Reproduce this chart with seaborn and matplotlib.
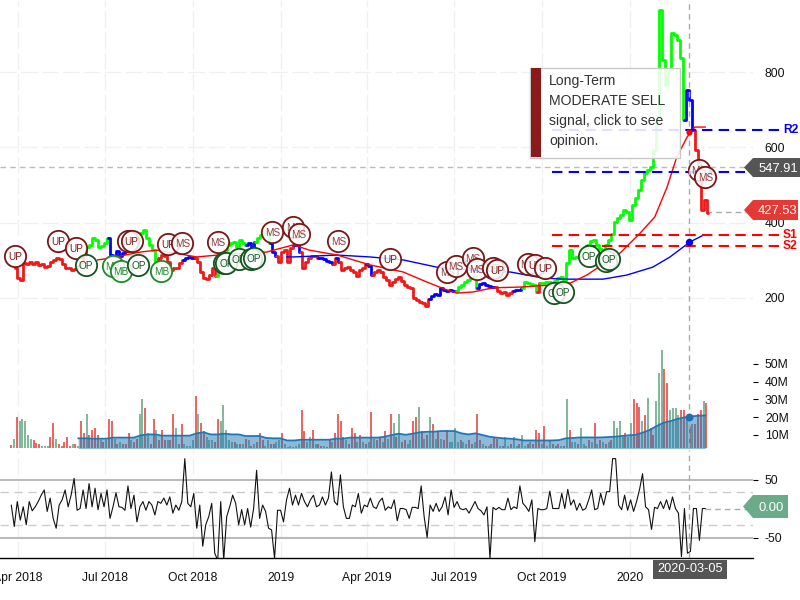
import matplotlib
matplotlib.use('Agg')
import matplotlib.pyplot as plt
import matplotlib.patches as mpatches
import numpy as np
import pandas as pd
import seaborn as sns

sns.set_theme(style='white')
plt.rcParams['font.family'] = ['Liberation Sans', 'DejaVu Sans']
plt.rcParams['axes.unicode_minus'] = False

# price, sampled along the chart, one letter per value for the signal colour
price_values = [
    280, 253, 248, 293, 290, 296, 290, 296, 288, 290,
    282, 285, 296, 301, 306, 304, 290, 280, 280, 274,
    277, 285, 296, 314, 335, 341, 359, 354, 335, 338,
    346, 359, 314, 311, 325, 311, 320, 327, 346, 354,
    359, 354, 373, 381, 359, 341, 327, 296, 306, 314,
    311, 296, 274, 280, 280, 293, 301, 306, 309, 306,
    306, 296, 269, 253, 250, 261, 280, 258, 274, 311,
    327, 341, 346, 349, 335, 354, 346, 341, 346, 327,
    349, 359, 367, 375, 375, 346, 322, 311, 296, 322,
    327, 296, 333, 341, 341, 322, 280, 296, 306, 311,
    311, 306, 306, 304, 298, 296, 290, 306, 296, 274,
    280, 282, 274, 269, 258, 274, 280, 290, 285, 261,
    269, 274, 269, 256, 248, 235, 242, 250, 256, 245,
    235, 229, 227, 200, 195, 189, 187, 179, 197, 205,
    211, 208, 227, 221, 219, 221, 219, 219, 229, 235,
    242, 248, 253, 256, 227, 237, 240, 235, 232, 229,
    229, 219, 213, 216, 208, 213, 219, 221, 221, 227,
    242, 240, 237, 235, 216, 240, 240, 242, 242, 240,
    245, 253, 256, 245, 293, 327, 306, 309, 311, 322,
    333, 341, 351, 354, 341, 330, 327, 341, 354, 370,
    402, 412, 420, 434, 428, 407, 447, 466, 487, 513,
    532, 540, 548, 593, 673, 965, 832, 766, 806, 905,
    898, 885, 837, 673, 752, 726, 646, 593, 553, 434, 460, 427,
]
price_signal = (
    'rrrrrrrrrr' 'rrrrrrrrrr' 'rrrrgggggg' 'gbbbbbbggg' 'gggggggrrr'
    'rrrrrrbbbb' 'rrrrrrrggg' 'gggggggbbb' 'gggggbbrrr' 'rrrbbrrrrr'
    'rbbbbbrbrr' 'rrrrrrrbbr' 'rrrrrrrrrr' 'rrrrrrrrbb' 'bbbbbbbggg'
    'ggggbbbbbb' 'rrrrrrbbbg' 'ggggrggggg' 'gggggggggg' 'gggggggggg'
    'gggggggggg' 'gggggggggg' 'gggbbbrrrrrr'
)

# moving averages: days since 2018-04-01, price
ma_red_days = [83, 96, 128, 145, 162, 187, 222, 260, 288, 305, 334, 368, 403, 428, 449, 459,
               476, 497, 525, 543, 562, 578, 595, 630, 651, 666, 679, 689, 700, 708, 719]
ma_red_values = [301, 306, 322, 327, 320, 309, 317, 322, 341, 327, 314, 288, 269, 242, 221, 213,
                 216, 227, 229, 232, 235, 240, 261, 320, 373, 415, 495, 574, 628, 654, 654]
ma_blue_days = [281, 288, 334, 368, 403, 438, 473, 515, 549, 570, 612, 637, 664, 682, 703, 717]
ma_blue_values = [309, 309, 314, 309, 301, 282, 274, 269, 253, 250, 250, 261, 282, 309, 349, 367]

# signal badges
signal_days = [-3, 42, 61, 71, 99, 108, 126, 115, 119, 157, 172, 150, 209, 215, 218, 231, 244, 247,
               266, 288, 294, 335, 389, 449, 458, 476, 480, 497, 501, 533, 541, 551, 561, 570,
               597, 615, 618, 712, 719]
signal_prices = [312, 351, 333, 288, 285, 272, 288, 351, 351, 343, 346, 272, 349, 293, 293, 304, 304, 306,
                 375, 389, 370, 351, 304, 269, 285, 306, 277, 280, 274, 290, 288, 280, 213, 216,
                 312, 298, 304, 540, 521]
signal_labels = ['UP', 'UP', 'UP', 'OP', 'MB', 'MB', 'OP', 'UP', 'UP', 'UP', 'MS', 'MB', 'MS', 'OP', 'OP', 'OP', 'OP', 'OP',
                 'MS', 'MS', 'MS', 'MS', 'UP', 'MS', 'MS', 'MS', 'MS', 'UP', 'UP', 'MS', 'UP', 'UP', 'OP', 'OP',
                 'OP', 'OP', 'OP', 'MS', 'MS']

level_names = ['R2', 'R1', 'S1', 'S2']
level_values = [646, 535, 367, 338]
level_colors = ['#0000ff', '#0000ff', '#ff0000', '#ff0000']
last_price = 427.53
prev_price = 547.91

# volume in millions
volume_values = [
    4.3, 8, 20, 18, 19, 18, 10, 7.5, 7, 5.5,
    5, 4, 4, 4, 9, 17, 8, 5, 4, 6,
    9, 3.5, 5, 5, 4, 18, 11, 22, 10, 13,
    14, 10, 7, 6, 7, 19, 18, 8, 5, 6,
    5, 5, 11, 7, 6, 8, 22, 30, 25, 11,
    5, 19, 13, 7, 13, 7, 7, 7, 22, 14,
    5, 16, 5, 4, 4, 7, 32, 22, 17, 12,
    9, 7, 7, 6, 19, 18, 27, 13, 7, 6,
    6, 5, 5, 5, 8, 7, 4, 5, 6, 11,
    7, 4, 7, 5, 5, 6, 7, 11, 5, 3,
    4, 3, 4, 5, 24, 12, 6, 9, 13, 5,
    5, 4, 4, 3, 8, 6, 11, 22, 18, 9,
    7, 5, 14, 11, 6, 10, 6, 5, 6, 23,
    8, 7, 9, 6, 12, 8, 22, 17, 9, 22,
    6, 7, 5, 7, 18, 20, 26, 12, 8, 10,
    20, 16, 8, 12, 8, 7, 13, 6, 6, 14,
    6, 7, 6, 5, 7, 5, 6, 22, 7, 5,
    4, 4, 5, 9, 8, 4, 4, 9, 4, 5,
    9, 4, 5, 10, 4, 5, 6, 5, 13, 11,
    5, 15, 4, 7, 5, 4, 5, 4, 4, 30,
    13, 6, 6, 5, 14, 5, 4, 7, 6, 17,
    5, 7, 6, 5, 6, 7, 18, 14, 18, 9,
    11, 9, 17, 30, 28, 26, 18, 21, 31, 14,
    10, 29, 45, 58, 47, 39, 24, 25, 25, 21,
    24, 24, 20, 15, 16, 16, 22, 24, 29, 28,
]
volume_signal = (
    'rgrgggggrr' 'rgggrrgrrr' 'rrgrgrrgrr' 'rrgrgrrgrg' 'rrrgrrggrg'
    'rrgrrrgrrg' 'rrggggrgrr' 'gggrrggggg' 'rgrgrgrgrr' 'rggrrggrgg'
    'ggggrrggrg' 'rrgrrgrrrr' 'grrrgrgrgr' 'grrgrgrgrg' 'rrggrrgrgr'
    'grgrgrrggg' 'grggrrgrrg' 'rgrrrgrggr' 'ggrggrgrrr' 'grggrrrgrg'
    'rggrgggrgr' 'grgrgrgggg' 'rggrrrgrgr' 'rgggrrgggg' 'rrgrgrrrgr'
)
volume_ma = [
    8.1, 8.1, 7.9, 7.9, 7.9, 8.5, 8.5, 8.5, 8.5, 9.8, 10.3, 10.3, 9.6, 9.6, 9.6, 9.6,
    9.6, 10.9, 11.5, 10.3, 10.3, 10.7, 10.3, 10.3, 9.4, 9.4, 9.4, 8.3, 8.1, 8.1, 6.9, 6.9,
    7.3, 7.3, 7.3, 7.3, 7.3, 7.9, 7.9, 8.5, 8.5, 8.5, 8.5, 8.5, 9.0, 10.0, 10.7,
    10.1, 10.7, 11.5, 11.8, 11.8, 12.2, 12.2, 12.2, 10.9, 10.3, 10.9, 10.0, 9.0, 8.5, 8.1, 7.9,
    7.5, 6.9, 6.9, 6.9, 6.9, 6.9, 7.1, 8.1, 8.3, 8.6, 8.6, 8.6, 8.6, 8.8, 9.0, 9.4,
    9.8, 10.1, 11.3, 12.8, 15.0, 16.9, 17.8, 19.0, 19.9, 20.5, 20.8, 21.0,
]

# oscillator
osc_values = [
    6, -31, 12, -20, 3, -28, 12, -4, 3, 12, 23, 32, -5, 18, -17, -34, 6, 15, 32, 3,
    23, 52, -3, 0, 32, 0, 43, 3, 35, -2, 26, 3, 32, -17, 3, 27, 3, 2, -3, 39,
    0, 23, -23, 3, 12, -3, 12, 6, -11, 12, 9, 18, 6, 20, -8, 6, -3, 12, 86, 9,
    3, 26, -34, 6, -65, -28, -14, 9, -77, -89, 12, -89, -14, 3, 23, 9, -28, -2, -28,
    0, -32, 0, 66, -17, 6, -5, -34, -37, -86, -3, -3, -23, 15, 35, 6, 23, 6, 26, 12,
    3, 15, 23, 3, 6, 20, 6, 18, 63, 12, 6, 58, 3, -17, -17, 6, 3, 26, -8, 6, 3,
    18, 3, 0, 12, 18, -3, 3, 0, 15, -21, 0, 0, -2, -17, 2, 2, 0, 39, -14, -50,
    6, -5, 9, -5, 3, 20, -11, 32, 2, 12, 0, -2, 0, -8, 2, 12, 0, -4, -11, 3,
    -86, 2, -2, 2, -2, -2, 18, -2, 3, 0, 39, 9, 3, -5, 15, -57, 0, -2, -2, 0,
    30, 0, 0, 0, 26, 0, 33, 6, 15, -3, 9, -3, 0, 15, 32, -2, 0, 26, 6, 29, 29, 86,
    86, 6, -2, 23, -3, 15, -5, 12, 33, 60, 3, -2, -36, 2, 0, 12, 0, 15, -2, 20,
    0, -8, -83, 0, -77, -74, 0, 0, -55, 0, 0,
]
osc_last = 0.00

price_ticks = [200, 400, 600, 800]
volume_ticks = [10, 20, 30, 40, 50]
volume_tick_labels = ['10M', '20M', '30M', '40M', '50M']
osc_ticks = [50, -50]
date_ticks = ['2018-04-01', '2018-07-01', '2018-10-01', '2019-01-01', '2019-04-01', '2019-07-01', '2019-10-01', '2020-01-01']
date_tick_labels = ['Apr 2018', 'Jul 2018', 'Oct 2018', '2019', 'Apr 2019', 'Jul 2019', 'Oct 2019', '2020']
cursor_label = '2020-03-05'
cursor_date = pd.Timestamp('2020-03-03')

origin = pd.Timestamp('2018-04-01')


def from_days(days):
    return origin + pd.to_timedelta(days, unit='D')


def line(ax, x, y, **kwargs):
    sns.lineplot(x=x, y=y, ax=ax, estimator=None, sort=False, legend=False, **kwargs)


def style_axes(ax):
    sns.despine(ax=ax, left=True, bottom=True, right=True, top=True)
    ax.set_xlim(from_days(-18.8), from_days(768.8))
    ax.set_xticks(pd.to_datetime(date_ticks))
    ax.set_xticklabels([])
    ax.grid(axis='x', color='#f0f0f0', lw=1, ls=(0, (12, 3)))
    ax.set_axisbelow(True)
    ax.patch.set_alpha(0)
    ax.tick_params(axis='x', bottom=False, labelbottom=False)
    ax.tick_params(axis='y', left=False, labelleft=False, right=True, labelright=True,
                   length=3.6, width=0.8, color='black', pad=5, labelsize=8.7, labelcolor='#111111')
    ax.axvline(cursor_date, color='#aaaaaa', lw=1, ls=(0, (4, 3)), zorder=50)
    ax.set_xlabel('')
    ax.set_ylabel('')


fig = plt.figure(figsize=(8, 6), dpi=100)
ax_price = fig.add_axes([0, 260 / 600, 753 / 800, 340 / 600])
ax_vol = fig.add_axes([0, 152 / 600, 753 / 800, 108 / 600])
ax_osc = fig.add_axes([0, 42 / 600, 753 / 800, 108 / 600])

# ---- price panel
price_dates = pd.date_range(from_days(-3), from_days(722), periods=len(price_values))
signal_colors = {'r': '#f01818', 'g': '#00ff00', 'b': '#0000ff'}
start = 0
for i in range(1, len(price_values) + 1):
    if i == len(price_values) or price_signal[i] != price_signal[start]:
        stop = min(i + 1, len(price_values))
        line(ax_price, price_dates[start:stop], price_values[start:stop],
             color=signal_colors[price_signal[start]], lw=2, zorder=4, drawstyle='steps-mid')
        start = i

line(ax_price, from_days(ma_blue_days), ma_blue_values, color='#0000ff', lw=1, zorder=5)
line(ax_price, from_days(ma_red_days), ma_red_values, color='#ff0000', lw=1, zorder=5)

ax_price.set_ylim(88.4, 991.5)
style_axes(ax_price)
ax_price.set_yticks(price_ticks)
ax_price.grid(axis='y', color='#f0f0f0', lw=1, ls=(0, (12, 3)))
ax_price.tick_params(axis='y', right=False, pad=4.5)

for name, value, color in zip(level_names, level_values, level_colors):
    stop = 745 if name == 'R1' else 780
    ax_price.plot([from_days(559), from_days((stop - 18) * 1.046)], [value, value], color=color,
                  lw=1.5, ls=(0, (5, 3)), clip_on=False, zorder=6)
ax_price.plot([from_days(-18.8), from_days(761)], [prev_price, prev_price], color='#bbbbbb',
              lw=1, ls=(0, (4, 3)), clip_on=False, zorder=3)
ax_price.plot([from_days(720), from_days(761)], [last_price, last_price], color='#aaaaaa',
              lw=1, ls=(0, (4, 3)), clip_on=False, zorder=3)

badge_styles = {
    'UP': ('#7b1616', '#7b1616'),
    'MS': ('#7b1616', '#8f3a3a'),
    'OP': ('#14551f', '#14551f'),
    'MB': ('#1d8a2a', '#1d8a2a'),
}
for i, (day, price, label) in enumerate(zip(signal_days, signal_prices, signal_labels)):
    edge, ink = badge_styles[label]
    sns.scatterplot(x=[from_days(day)], y=[price], ax=ax_price, s=235, color=(1, 1, 1, 0.85),
                    edgecolor=edge, linewidth=1.3, zorder=10 + i, legend=False)
    ax_price.text(from_days(day), price, label, ha='center', va='center_baseline', fontsize=7.2,
                  color=ink, zorder=10.5 + i)

sns.scatterplot(x=[cursor_date], y=[349], ax=ax_price, s=28, color='#0000ff', linewidth=0, zorder=60, legend=False)
sns.scatterplot(x=[cursor_date], y=[640], ax=ax_price, s=20, color='#ff0000', linewidth=0, zorder=60, legend=False)

# ---- volume panel
volume_dates = pd.date_range(from_days(-7), from_days(720), periods=len(volume_values))
volume_palette = {'r': '#e53935', 'g': '#5fa37e'}
ax_vol.vlines(volume_dates, 0, volume_values, lw=1.1,
              colors=[volume_palette[s] for s in volume_signal[:len(volume_values)]], zorder=2)
ma_dates = pd.date_range(from_days(63), from_days(719), periods=len(volume_ma))
ax_vol.fill_between(ma_dates, volume_ma, 0, color='#1f77b4', alpha=0.5, lw=0, zorder=3)
line(ax_vol, ma_dates, volume_ma, color='#1f77b4', lw=1.3, zorder=4)
sns.scatterplot(x=[cursor_date], y=[19.9], ax=ax_vol, s=32, color='#1f6fb0', linewidth=0, zorder=60, legend=False)
ax_vol.set_ylim(2.65, 63.5)
style_axes(ax_vol)
ax_vol.set_yticks(volume_ticks)
ax_vol.set_yticklabels(volume_tick_labels)

# ---- oscillator panel
osc_dates = pd.date_range(from_days(-7), from_days(719), periods=len(osc_values))
for level in (50, -50):
    ax_osc.axhline(level, color='#bbbbbb', lw=1.5, zorder=1)
for level in (29, -29):
    ax_osc.axhline(level, color='#cccccc', lw=1, ls=(0, (6, 4)), zorder=1)
line(ax_osc, osc_dates, osc_values, color='#111111', lw=0.8, zorder=3)
ax_osc.plot([from_days(719), from_days(761)], [osc_last, osc_last], color='#aaaaaa', lw=1,
            ls=(0, (4, 3)), clip_on=False, zorder=2)
ax_osc.set_ylim(-85.3, 100.9)
style_axes(ax_osc)
ax_osc.set_yticks(osc_ticks)
ax_osc.spines['bottom'].set_visible(True)
ax_osc.spines['bottom'].set_color('black')
ax_osc.spines['bottom'].set_linewidth(1)
ax_osc.set_xticks(pd.to_datetime(date_ticks))
ax_osc.set_xticklabels(date_tick_labels)
ax_osc.tick_params(axis='x', labelbottom=True, labelsize=8.7, pad=4, labelcolor='#111111')

# ---- overlay for tooltip and value tags, in pixels
overlay = fig.add_axes([0, 0, 1, 1], zorder=20)
overlay.set_xlim(0, 800)
overlay.set_ylim(600, 0)
overlay.axis('off')
overlay.add_patch(mpatches.Rectangle((530, 67.5), 150, 90, facecolor=(1, 1, 1, 0.88), edgecolor='#c8c8c8', lw=1))
overlay.add_patch(mpatches.Rectangle((530.5, 68), 10.5, 89, facecolor='#8b1a1a', edgecolor='none'))
for k, text in enumerate(['Long-Term', 'MODERATE SELL', 'signal, click to see', 'opinion.']):
    overlay.text(549, 81 + 20 * k, text, fontsize=10.1, color='#333333', va='center')


def value_tag(top, bottom, right, tip, text, color):
    mid = (top + bottom) / 2
    overlay.add_patch(mpatches.Polygon([(tip, mid), (753, top), (right, top), (right, bottom), (753, bottom)],
                                       closed=True, facecolor=color, edgecolor='none'))
    overlay.text(778 if right > 790 else 771, mid, text, color='white', fontsize=9.4, ha='center', va='center_baseline')


value_tag(158, 177, 800, 744, f'{prev_price:.2f}', '#555555')
value_tag(200, 220, 798, 744, f'{last_price:.2f}', '#e53935')
value_tag(495, 518, 788, 743, f'{osc_last:.2f}', '#6aab8a')

for name, y, color in [('R2', 130, '#0000ff'), ('S1', 235, '#ff0000'), ('S2', 246, '#ff0000')]:
    overlay.text(783, y, name, color=color, fontsize=8.7, fontweight='bold', va='center')

overlay.add_patch(mpatches.Rectangle((653, 560), 74, 19, facecolor='#555555', edgecolor='none'))
overlay.text(690, 569, cursor_label, color='white', fontsize=9.2, ha='center', va='center')

fig.savefig('out.png', dpi=100)
plt.close(fig)
